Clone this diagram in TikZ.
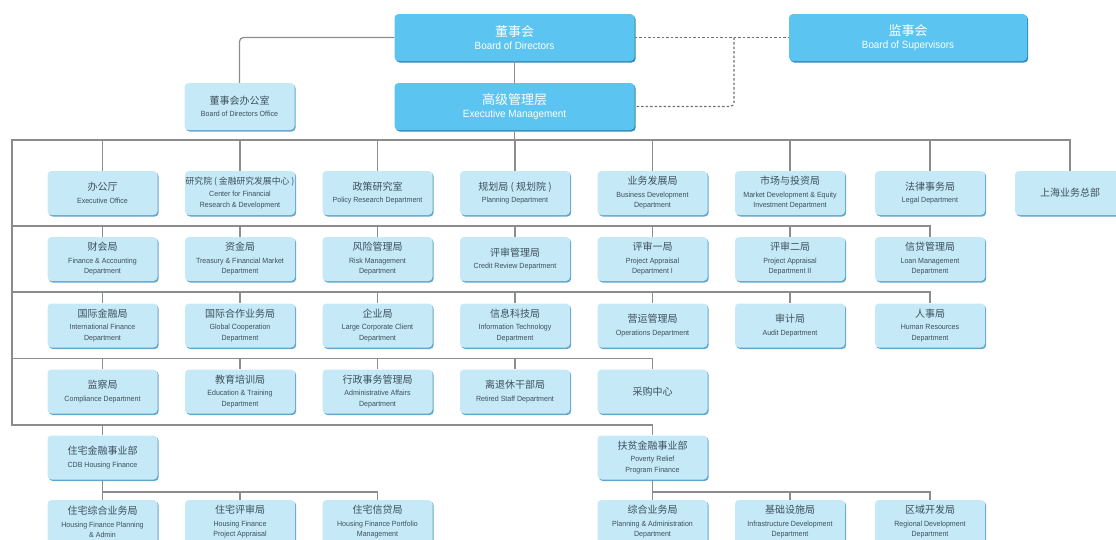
\documentclass[tikz,border=0pt]{standalone}
\usepackage{fontspec}
\setmainfont{Liberation Sans}
\newfontfamily\cjk{Noto Sans CJK SC}
\newfontfamily\en[FakeStretch=0.94]{Liberation Sans}
\usetikzlibrary{calc,shadows}
\definecolor{topblue}{RGB}{92,196,240}
\definecolor{topshade}{RGB}{52,138,188}
\definecolor{deptblue}{RGB}{198,233,248}
\definecolor{deptshade}{RGB}{96,166,206}
\definecolor{depttext}{RGB}{60,80,92}
\definecolor{linegray}{RGB}{140,140,140}
\def\toplbl#1#2{{\cjk\fontsize{13}{15}\selectfont #1}\\[1pt]#2}
\def\deptlbl#1#2{{\cjk\fontsize{10}{12}\selectfont #1}\\[2pt]#2}
\tikzset{
  topbox/.style={rounded corners=4pt, fill=topblue, text=white, minimum width=240pt,
    minimum height=47pt, inner sep=0pt, align=center,
    general shadow={fill=topshade, shadow xshift=1.2pt, shadow yshift=-1.5pt},
    font=\en\fontsize{10.5}{12}\selectfont},
  deptbox/.style={rounded corners=4pt, fill=deptblue, text=depttext, minimum width=110pt,
    minimum height=44pt, inner sep=0pt, align=center,
    general shadow={fill=deptshade, shadow xshift=1.2pt, shadow yshift=-1.5pt},
    font=\en\fontsize{7.5}{10.5}\selectfont},
  link/.style={draw=linegray, line width=1.2pt},
  mgmtlink/.style={draw=linegray!80!black, line width=1.1pt, dash pattern=on 2.5pt off 2pt}
}
\begin{document}
\begin{tikzpicture}[x=1pt, y=-1pt]
	%%%%% START %%%%%
	\useasboundingbox (0,0) rectangle (1116,539);
	
	\node[topbox] (bod) at (514.5,37.5) {\toplbl{董事会}{Board of Directors}};
	\node[topbox, minimum width=238pt] (bos) at (908,37.5) {\toplbl{监事会}{Board of Supervisors}};
	\node[topbox] (exe) at (514.5,106.5) {\toplbl{高级管理层}{Executive Management}};
	\node[deptbox, minimum height=47pt] (bdo) at (239.5,106.5) {\deptlbl{董事会办公室}{Board of Directors Office}};
	
	% row 1
	\node[deptbox] (bgt) at (102.5,193) {\deptlbl{办公厅}{Executive Office}};
	\node[deptbox] (yjy) at (240,193) {{\cjk\fontsize{8.8}{12}\selectfont 研究院 ( 金融研究发展中心 )}\\[2pt]Center for Financial\\Research \& Development};
	\node[deptbox] (zys) at (377.5,193) {\deptlbl{政策研究室}{Policy Research Department}};
	\node[deptbox] (ghj) at (515,193) {\deptlbl{规划局 ( 规划院 )}{Planning Department}};
	\node[deptbox] (ywf) at (652.5,193) {\deptlbl{业务发展局}{Business Development\\Department}};
	\node[deptbox] (scz) at (790,193) {\deptlbl{市场与投资局}{Market Development \& Equity\\Investment Department}};
	\node[deptbox] (flj) at (930,193) {\deptlbl{法律事务局}{Legal Department}};
	\node[deptbox] (shb) at (1070,193) {\cjk\fontsize{10}{12}\selectfont 上海业务总部};
	
	% row 2
	\node[deptbox] (chk) at (102.5,259) {\deptlbl{财会局}{Finance \& Accounting\\Department}};
	\node[deptbox] (zjj) at (240,259) {\deptlbl{资金局}{Treasury \& Financial Market\\Department}};
	\node[deptbox] (fxj) at (377.5,259) {\deptlbl{风险管理局}{Risk Management\\Department}};
	\node[deptbox] (psg) at (515,259) {\deptlbl{评审管理局}{Credit Review Department}};
	\node[deptbox] (ps1) at (652.5,259) {\deptlbl{评审一局}{Project Appraisal\\Department I}};
	\node[deptbox] (ps2) at (790,259) {\deptlbl{评审二局}{Project Appraisal\\Department II}};
	\node[deptbox] (xdg) at (930,259) {\deptlbl{信贷管理局}{Loan Management\\Department}};
	
	% row 3
	\node[deptbox] (gjj) at (102.5,325.5) {\deptlbl{国际金融局}{International Finance\\Department}};
	\node[deptbox] (hzj) at (240,325.5) {\deptlbl{国际合作业务局}{Global Cooperation\\Department}};
	\node[deptbox] (qyj) at (377.5,325.5) {\deptlbl{企业局}{Large Corporate Client\\Department}};
	\node[deptbox] (xxk) at (515,325.5) {\deptlbl{信息科技局}{Information Technology\\Department}};
	\node[deptbox] (yyg) at (652.5,325.5) {\deptlbl{营运管理局}{Operations Department}};
	\node[deptbox] (sjj) at (790,325.5) {\deptlbl{审计局}{Audit Department}};
	\node[deptbox] (rsj) at (930,325.5) {\deptlbl{人事局}{Human Resources\\Department}};
	
	% row 4
	\node[deptbox] (jcj) at (102.5,391.5) {\deptlbl{监察局}{Compliance Department}};
	\node[deptbox] (jyp) at (240,391.5) {\deptlbl{教育培训局}{Education \& Training\\Department}};
	\node[deptbox] (xzs) at (377.5,391.5) {\deptlbl{行政事务管理局}{Administrative Affairs\\Department}};
	\node[deptbox] (ltx) at (515,391.5) {\deptlbl{离退休干部局}{Retired Staff Department}};
	\node[deptbox] (cgz) at (652.5,391.5) {\cjk\fontsize{10}{12}\selectfont 采购中心};
	
	% business units
	\node[deptbox] (zfb) at (102.5,457.5) {\deptlbl{住宅金融事业部}{CDB Housing Finance}};
	\node[deptbox] (fpb) at (652.5,457.5) {\deptlbl{扶贫金融事业部}{Poverty Relief\\Program Finance}};
	
	\node[deptbox] (zzh) at (102.5,522) {\deptlbl{住宅综合业务局}{Housing Finance Planning\\\& Admin}};
	\node[deptbox] (zps) at (240,522) {\deptlbl{住宅评审局}{Housing Finance\\Project Appraisal}};
	\node[deptbox] (zxd) at (377.5,522) {\deptlbl{住宅信贷局}{Housing Finance Portfolio\\Management}};
	\node[deptbox] (zhy) at (652.5,522) {\deptlbl{综合业务局}{Planning \& Administration\\Department}};
	\node[deptbox] (jcs) at (790,522) {\deptlbl{基础设施局}{Infrastructure Development\\Department}};
	\node[deptbox] (qyk) at (930,522) {\deptlbl{区域开发局}{Regional Development\\Department}};
	
	% top links
	\draw[link, rounded corners=4pt] (bod.west) -| (bdo.north);
	\draw[link] (bod.south) -- (exe.north);
	\draw[mgmtlink] (bod.east) -- (bos.west);
	\coordinate (sv) at (734,37.5);
	\draw[mgmtlink, rounded corners=4pt] (sv) |- (exe.east);
	
	% buses
	\coordinate (bus0) at (12,140);
	\coordinate (bus1) at (12,226);
	\coordinate (bus2) at (12,292);
	\coordinate (bus3) at (12,358.5);
	\coordinate (bus4) at (12,425);
	\draw[link] (exe.south) -- (exe.south |- bus0);
	\draw[link] (shb.north) |- (bus0) -- (bus4) -| (fpb.north);
	\draw[link] (bus1) -| (xdg.north);
	\draw[link] (bus2) -| (rsj.north);
	\draw[link] (bus3) -| (cgz.north);
	\foreach \n in {bgt,yjy,zys,ghj,ywf,scz,flj}
		\draw[link] (\n.north |- bus0) -- (\n.north);
	\foreach \n in {chk,zjj,fxj,psg,ps1,ps2}
		\draw[link] (\n.north |- bus1) -- (\n.north);
	\foreach \n in {gjj,hzj,qyj,xxk,yyg,sjj}
		\draw[link] (\n.north |- bus2) -- (\n.north);
	\foreach \n in {jcj,jyp,xzs,ltx}
		\draw[link] (\n.north |- bus3) -- (\n.north);
	\draw[link] (zfb.north |- bus4) -- (zfb.north);
	
	% sub buses
	\coordinate (hbus) at (0,492);
	\draw[link] (zfb.south) -- (zzh.north);
	\draw[link] (zfb.south |- hbus) -| (zxd.north);
	\draw[link] (zps.north |- hbus) -- (zps.north);
	\draw[link] (fpb.south) -- (zhy.north);
	\draw[link] (fpb.south |- hbus) -| (qyk.north);
	\draw[link] (jcs.north |- hbus) -- (jcs.north);
	
	%%%%% END %%%%%
\end{tikzpicture}
\end{document}
